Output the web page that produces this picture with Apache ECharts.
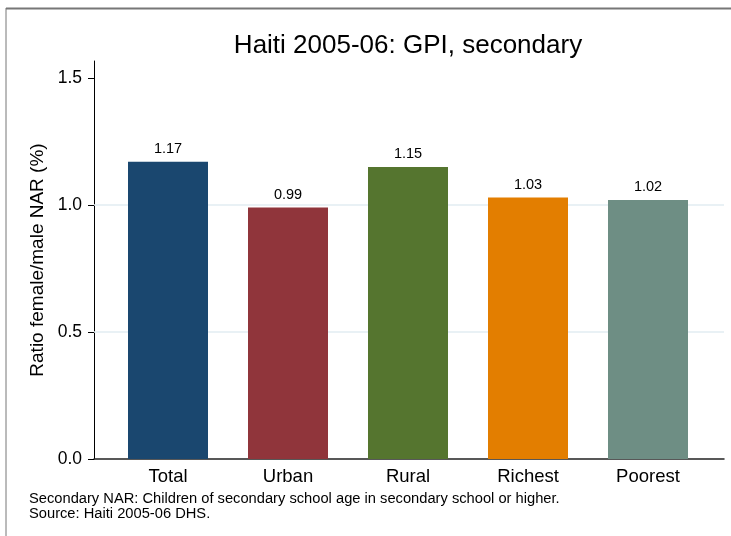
<!DOCTYPE html>
<html>
<head>
<meta charset="utf-8">
<script src="https://cdn.jsdelivr.net/npm/echarts@6/dist/echarts.min.js"></script>
<style>html,body{margin:0;padding:0;background:#fff}#c{width:731px;height:536px}</style>
</head>
<body>
<div id="c"></div>
<script>
var categories = ['Total', 'Urban', 'Rural', 'Richest', 'Poorest'];
var values = [1.17, 0.99, 1.15, 1.03, 1.02];
var barColors = ['#1a476f', '#90353b', '#55752f', '#e37e00', '#6e8e84'];
var yTicks = [0, 0.5, 1.0, 1.5];
var gridValues = [0.5, 1.0];
var titleText = 'Haiti 2005-06: GPI, secondary';
var yTitle = 'Ratio female/male NAR (%)';
var notes = ['Secondary NAR: Children of secondary school age in secondary school or higher.', 'Source: Haiti 2005-06 DHS.'];

var FONT = '"Liberation Sans", Arial, sans-serif';
var chart = echarts.init(document.getElementById('c'), null, {renderer: 'canvas'});
var yMax = 1.567;

chart.setOption({
  animation: false,
  backgroundColor: '#fff',
  textStyle: {fontFamily: FONT, color: '#000'},
  title: [
    {text: titleText, left: 403, top: 28, textAlign: 'center',
     textStyle: {fontFamily: FONT, fontSize: 26, fontWeight: 'normal', color: '#000'}},
    {text: notes.join('\n'), left: 24, top: 487,
     textStyle: {fontFamily: FONT, fontSize: 14.7, fontWeight: 'normal', color: '#000', lineHeight: 14.5}}
  ],
  graphic: [
    {type: 'line', shape: {x1: 6, y1: 8.5, x2: 731, y2: 8.5}, style: {stroke: '#777', lineWidth: 2}, silent: true},
    {type: 'line', shape: {x1: 6, y1: 8, x2: 6, y2: 536}, style: {stroke: '#777', lineWidth: 1}, silent: true}
  ],
  grid: [
    {left: 94, right: 7, top: 61, bottom: 77},
    {left: 108, width: 600, top: 61, bottom: 77}
  ],
  xAxis: [
    {type: 'value', gridIndex: 0, min: 0, max: 1,
     axisLine: {show: true, lineStyle: {color: '#222', width: 1.5}},
     axisTick: {show: false}, axisLabel: {show: false}, splitLine: {show: false}},
    {type: 'category', gridIndex: 1, data: categories,
     axisLine: {show: false}, axisTick: {show: false},
     axisLabel: {fontFamily: FONT, fontSize: 18.5, color: '#000', margin: 8}}
  ],
  yAxis: [
    {type: 'value', gridIndex: 0, min: 0, max: yMax,
     name: yTitle, nameLocation: 'middle', nameGap: 47, nameRotate: 90,
     nameTextStyle: {fontFamily: FONT, fontSize: 19, color: '#000'},
     axisLine: {show: true, lineStyle: {color: '#000', width: 1}},
     axisTick: {show: true, length: 6, customValues: yTicks, lineStyle: {color: '#000'}},
     axisLabel: {customValues: yTicks, fontFamily: FONT, fontSize: 17.5, color: '#000', margin: 12,
       formatter: function (v) { return v.toFixed(1); }},
     splitLine: {show: false}},
    {type: 'value', gridIndex: 1, min: 0, max: yMax, show: false}
  ],
  series: [
    {type: 'line', xAxisIndex: 0, yAxisIndex: 0, data: [[0, 0]], symbol: 'none',
     lineStyle: {opacity: 0}, silent: true, z: 1,
     markLine: {silent: true, symbol: 'none', z: 1, label: {show: false},
       lineStyle: {color: '#e2edf2', width: 1.5, type: 'solid'},
       data: gridValues.map(function (v) { return {yAxis: v}; })}},
    {type: 'bar', xAxisIndex: 1, yAxisIndex: 1, barWidth: 80, z: 3,
     data: values.map(function (v, i) {
       return {value: v, itemStyle: {color: barColors[i]}};
     }),
     label: {show: true, position: 'top', distance: 5, fontFamily: FONT, fontSize: 14.5, color: '#000',
       formatter: function (p) { return p.value.toFixed(2); }}}
  ]
});
</script>
</body>
</html>
